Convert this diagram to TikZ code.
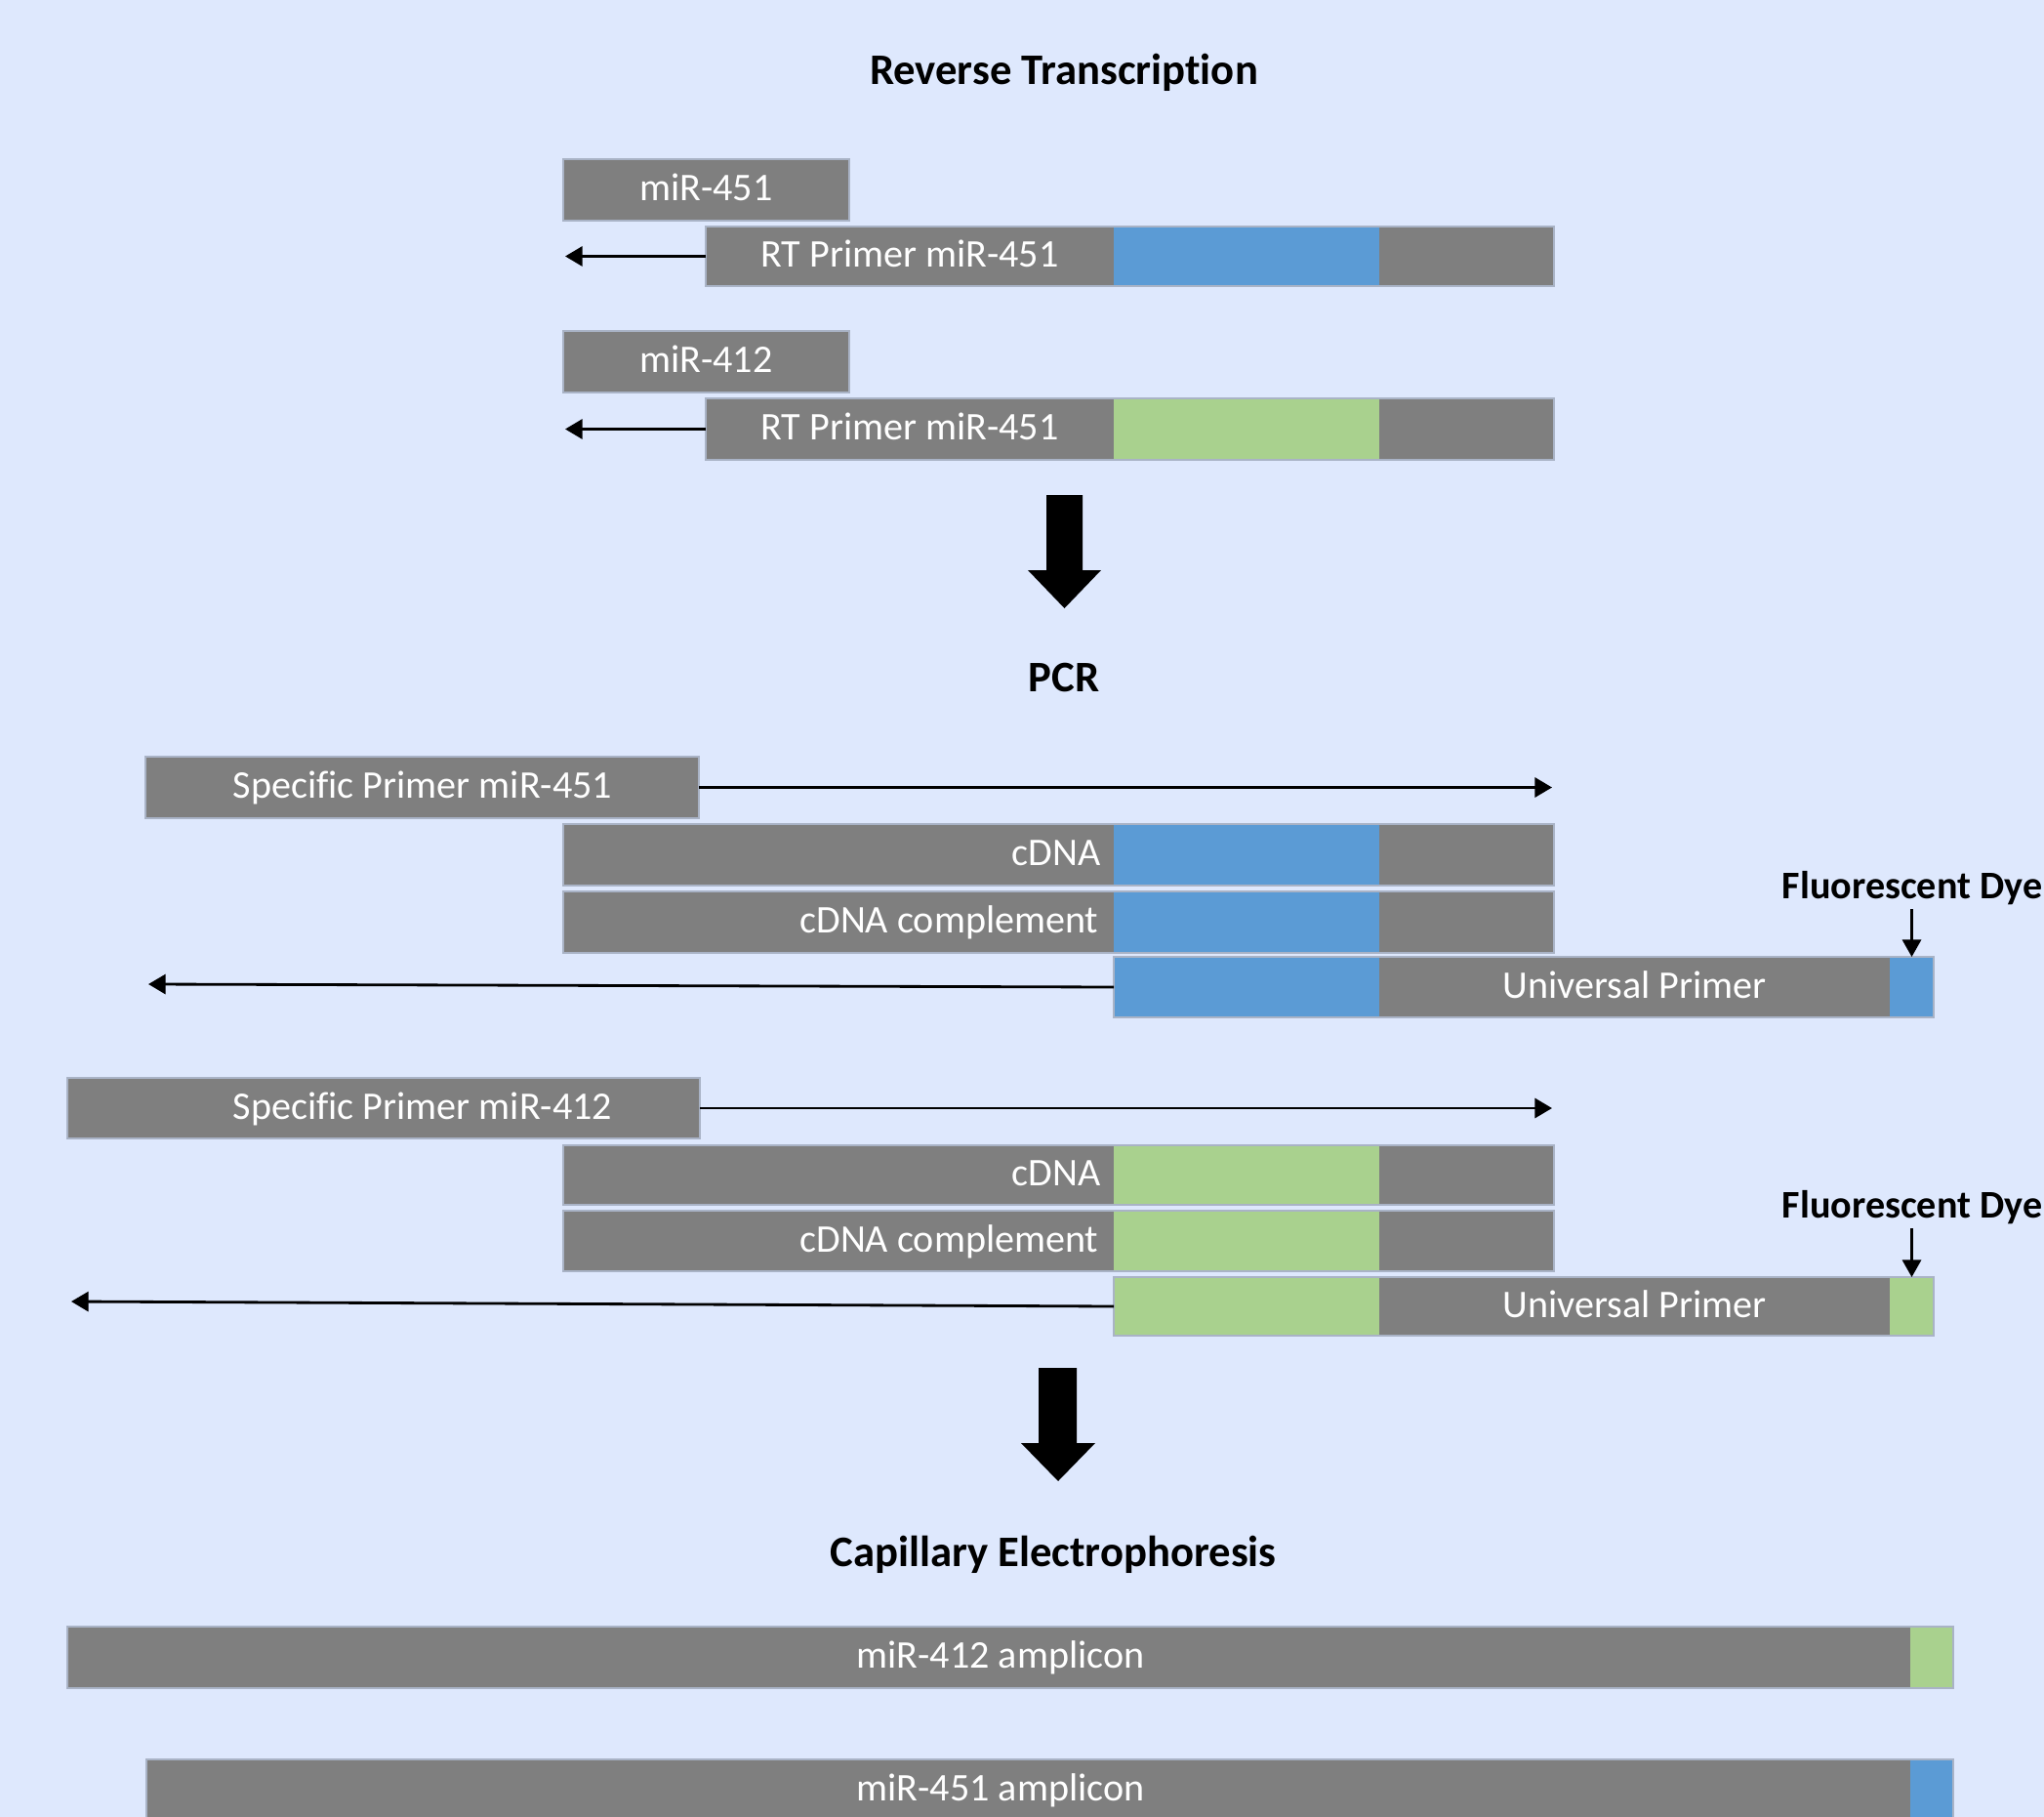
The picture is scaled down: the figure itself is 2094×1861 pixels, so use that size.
\documentclass[tikz,border=0pt]{standalone}
\usepackage{fontspec}
\setmainfont{Carlito}[Ligatures=NoCommon]
\usetikzlibrary{arrows.meta,fit}
\definecolor{bg}{HTML}{DEE8FD}
\definecolor{gr}{HTML}{7F7F7F}
\definecolor{bl}{HTML}{5B9BD5}
\definecolor{gn}{HTML}{A9D18E}
\definecolor{edgec}{HTML}{A9B3C6}
\tikzset{
 seg/.style={rectangle, inner sep=0pt, outer sep=0pt},
 gseg/.style={seg, fill=gr},
 bseg/.style={seg, fill=bl},
 nseg/.style={seg, fill=gn},
 lbl/.style={text=white, inner sep=0pt, text height=0.644em, text depth=0pt, font=\fontsize{11.4}{13}\selectfont},
 ttl/.style={inner sep=0pt, text height=0.644em, text depth=0pt, font=\fontsize{12.7}{15}\selectfont\bfseries},
 dyelbl/.style={inner sep=0pt, text height=0.644em, text depth=0pt, font=\fontsize{11.4}{13}\selectfont\bfseries},
 conn/.style={line width=0.8pt, -{Triangle[length=5pt,width=5.7pt]}},
 dyeconn/.style={line width=0.6pt, -{Triangle[length=5pt,width=5.5pt]}},
 outl/.style={draw=edgec, line width=0.35pt},
 bigarrow/.style={fill=black}
}
\begin{document}
\begin{tikzpicture}[x=0.01cm,y=-0.01cm]
\useasboundingbox (0,0) rectangle (2094,1861);
\fill[bg] (0,0) rectangle (2094,1861);

% ---------- Reverse Transcription ----------
\node[ttl] (t1) at (1090,75) {Reverse Transcription};

\node[gseg, fit={(577,163) (870,226)}] (m451) {};
\draw[outl] (m451.north west) rectangle (m451.south east);
\node[lbl] (m451l) at (m451.center) {miR-451};

\node[gseg, fit={(723,232) (1141,293)}] (rt1a) {};
\node[bseg, fit={(1141,232) (1413,293)}] (rt1b) {};
\node[gseg, fit={(1413,232) (1592,293)}] (rt1c) {};
\draw[outl] (rt1a.north west) rectangle (rt1c.south east);
\node[lbl] (rt1l) at (rt1a.center) {RT Primer miR-451};
\coordinate (rt1e) at (579,262.5);
\draw[conn] (rt1a.west) -- (rt1e);

\node[gseg, fit={(577,339) (870,402)}] (m412) {};
\draw[outl] (m412.north west) rectangle (m412.south east);
\node[lbl] (m412l) at (m412.center) {miR-412};

\node[gseg, fit={(723,408) (1141,471)}] (rt2a) {};
\node[nseg, fit={(1141,408) (1413,471)}] (rt2b) {};
\node[gseg, fit={(1413,408) (1592,471)}] (rt2c) {};
\draw[outl] (rt2a.north west) rectangle (rt2c.south east);
\node[lbl] (rt2l) at (rt2a.center) {RT Primer miR-451};
\coordinate (rt2e) at (579,439.5);
\draw[conn] (rt2a.west) -- (rt2e);

\fill[bigarrow] (1072,507) -- (1109,507) -- (1109,584) -- (1128,584) -- (1090.5,623) -- (1053,584) -- (1072,584) -- cycle;

% ---------- PCR ----------
\node[ttl] (t2) at (1090,697) {PCR};

% miR-451
\node[gseg, fit={(149,775) (716,838)}] (sp1) {};
\draw[outl] (sp1.north west) rectangle (sp1.south east);
\node[lbl] (sp1l) at (433,806.5) {Specific Primer miR-451};
\coordinate (sp1e) at (1590,806.5);
\draw[conn] (sp1.east) -- (sp1e);

\node[gseg, fit={(577,844) (1141,907)}] (cd1a) {};
\node[bseg, fit={(1141,844) (1413,907)}] (cd1b) {};
\node[gseg, fit={(1413,844) (1592,907)}] (cd1c) {};
\draw[outl] (cd1a.north west) rectangle (cd1c.south east);
\node[lbl, anchor=east] (cd1l) at ([xshift=-0.13cm]cd1a.east) {cDNA};

\node[gseg, fit={(577,913) (1141,976)}] (cc1a) {};
\node[bseg, fit={(1141,913) (1413,976)}] (cc1b) {};
\node[gseg, fit={(1413,913) (1592,976)}] (cc1c) {};
\draw[outl] (cc1a.north west) rectangle (cc1c.south east);
\node[lbl, anchor=east] (cc1l) at ([xshift=-0.15cm]cc1a.east) {cDNA complement};

\node[bseg, fit={(1141,980) (1413,1042)}] (up1a) {};
\node[gseg, fit={(1413,980) (1936,1042)}] (up1b) {};
\node[bseg, fit={(1936,980) (1981,1042)}] (up1c) {};
\draw[outl] (up1a.north west) rectangle (up1c.south east);
\node[lbl] (up1l) at (up1b.center) {Universal Primer};
\coordinate (up1e) at (152,1008);
\draw[conn] (up1a.west) -- (up1e);

\node[dyelbl] (dye1) at (1959,909) {Fluorescent Dye};
\coordinate (dye1s) at (1958.5,931);
\draw[dyeconn] (dye1s) -- (up1c.north);

% miR-412
\node[gseg, fit={(69,1104) (717,1166)}] (sp2) {};
\draw[outl] (sp2.north west) rectangle (sp2.south east);
\node[lbl] (sp2l) at (433,1135) {Specific Primer miR-412};
\coordinate (sp2e) at (1590,1135);
\draw[conn] (sp2.east) -- (sp2e);

\node[gseg, fit={(577,1173) (1141,1234)}] (cd2a) {};
\node[nseg, fit={(1141,1173) (1413,1234)}] (cd2b) {};
\node[gseg, fit={(1413,1173) (1592,1234)}] (cd2c) {};
\draw[outl] (cd2a.north west) rectangle (cd2c.south east);
\node[lbl, anchor=east] (cd2l) at ([xshift=-0.13cm]cd2a.east) {cDNA};

\node[gseg, fit={(577,1240) (1141,1302)}] (cc2a) {};
\node[nseg, fit={(1141,1240) (1413,1302)}] (cc2b) {};
\node[gseg, fit={(1413,1240) (1592,1302)}] (cc2c) {};
\draw[outl] (cc2a.north west) rectangle (cc2c.south east);
\node[lbl, anchor=east] (cc2l) at ([xshift=-0.15cm]cc2a.east) {cDNA complement};

\node[nseg, fit={(1141,1308) (1413,1368)}] (up2a) {};
\node[gseg, fit={(1413,1308) (1936,1368)}] (up2b) {};
\node[nseg, fit={(1936,1308) (1981,1368)}] (up2c) {};
\draw[outl] (up2a.north west) rectangle (up2c.south east);
\node[lbl] (up2l) at (up2b.center) {Universal Primer};
\coordinate (up2e) at (73,1333);
\draw[conn] (up2a.west) -- (up2e);

\node[dyelbl] (dye2) at (1959,1236) {Fluorescent Dye};
\coordinate (dye2s) at (1958.5,1258);
\draw[dyeconn] (dye2s) -- (up2c.north);

\fill[bigarrow] (1064,1401) -- (1103,1401) -- (1103,1478) -- (1122,1478) -- (1084,1517) -- (1046,1478) -- (1064,1478) -- cycle;

% ---------- Capillary Electrophoresis ----------
\node[ttl] (t3) at (1079,1593) {Capillary Electrophoresis};

\node[gseg, fit={(69,1666) (1957,1729)}] (am1a) {};
\node[nseg, fit={(1957,1666) (2001,1729)}] (am1b) {};
\draw[outl] (am1a.north west) rectangle (am1b.south east);
\node[lbl] (am1l) at (1025,1697.5) {miR-412 amplicon};

\node[gseg, fit={(150,1802) (1957,1865)}] (am2a) {};
\node[bseg, fit={(1957,1802) (2001,1865)}] (am2b) {};
\draw[outl] (am2a.north west) rectangle (am2b.south east);
\node[lbl] (am2l) at (1025,1833.5) {miR-451 amplicon};
\end{tikzpicture}
\end{document}
